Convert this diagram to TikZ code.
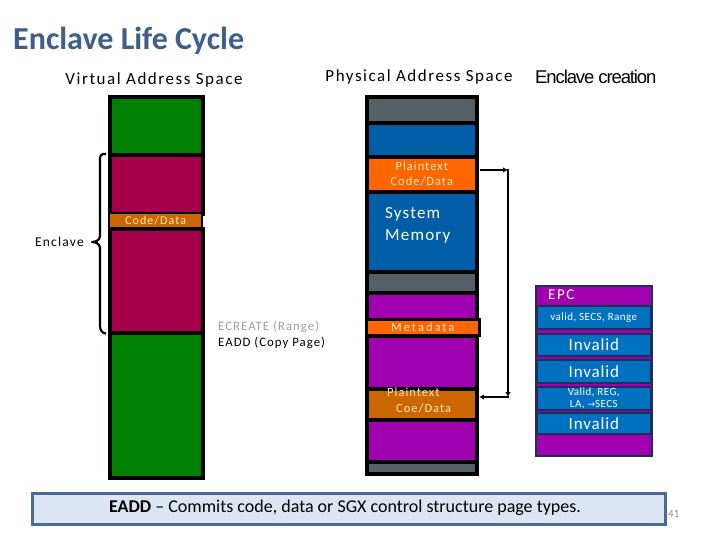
\documentclass[tikz,border=0pt]{standalone}
\usepackage{fontspec}
\setmainfont{Carlito}
\newfontfamily\arialf{Liberation Sans}
\newfontfamily\djv{DejaVu Sans}
\usetikzlibrary{calc,arrows.meta}
\definecolor{titleblue}{RGB}{63,95,138}
\definecolor{vgreen}{RGB}{0,128,0}
\definecolor{maroon}{RGB}{166,0,77}
\definecolor{vorange}{RGB}{204,102,0}
\definecolor{porange}{RGB}{255,102,0}
\definecolor{pblue}{RGB}{0,94,166}
\definecolor{mgray}{RGB}{85,95,102}
\definecolor{mpurple}{RGB}{160,0,176}
\definecolor{epcblue}{RGB}{0,112,192}
\definecolor{navy}{RGB}{31,47,90}
\definecolor{boxfill}{RGB}{220,230,242}
\definecolor{boxdraw}{RGB}{74,106,149}
\definecolor{lighttxt}{RGB}{255,232,192}
\tikzset{
  seg/.style={draw=black, line width=3.6pt, inner sep=0pt, anchor=north west, align=center},
  epcseg/.style={draw=navy, line width=1.6pt, fill=epcblue, inner sep=0pt, anchor=north west, align=center, text=white},
  arr/.style={draw=black, line width=2.6pt, -{Latex[length=5pt,width=5.5pt]}},
  lbl/.style={inner sep=0pt, font=\fontsize{17}{18}\selectfont\addfontfeature{LetterSpace=9}},
  bigtxt/.style={font=\fontsize{17}{18}\selectfont\addfontfeature{LetterSpace=5}},
  smalltxt/.style={font=\fontsize{11}{12.5}\selectfont\addfontfeature{LetterSpace=4}},
}
\begin{document}
\begin{tikzpicture}[x=1pt,y=-1pt]
\useasboundingbox[fill=white] (0,0) rectangle (720,540);
% titles
\node[anchor=west, inner sep=0pt, text=titleblue, font=\fontsize{32}{34}\selectfont\bfseries] (title) at (13,41) {Enclave Life Cycle};
\node[lbl] (vas) at (154,80) {Virtual Address Space};
\node[lbl] (pas) at (419,77) {Physical Address Space};
\node[anchor=west, inner sep=0pt, font=\arialf\fontsize{18.5}{20}\selectfont\addfontfeature{LetterSpace=-6}] (ec) at (535,77) {Enclave creation};

% virtual column
\node[seg, fill=vgreen, minimum width=93pt, minimum height=58pt] (v1) at (108,95) {};
\node[seg, fill=maroon, minimum width=93pt, minimum height=59pt] (v2) at (108,153) {};
\node[seg, fill=vorange, minimum width=93pt, minimum height=15pt, line width=2.2pt, text=lighttxt, font=\fontsize{12}{12}\selectfont\addfontfeature{LetterSpace=9}] (v3) at (108,212) {Code/Data};
\node[seg, fill=maroon, minimum width=93pt, minimum height=104pt] (v4) at (108,227) {};
\node[seg, fill=vgreen, minimum width=93pt, minimum height=145pt] (v5) at (108,331) {};

% brace
\coordinate (bt) at ($(v2.north west)+(-2,1)$);
\coordinate (bb) at ($(v4.south west)+(-2,-1)$);
\draw[line width=2.2pt, line join=round] (bt) -- ++(-3,0) to[out=180,in=90] ++(-3,4) -- (100,236) to[out=-90,in=0] (92,242) to[out=0,in=90] (100,248) -- (100,326) to[out=-90,in=180] (bb);
\node[anchor=east, inner sep=0pt, font=\fontsize{13.5}{15}\selectfont\addfontfeature{LetterSpace=9}] (encl) at (84,242) {Enclave};

% commands
\node[anchor=west, inner sep=0pt, text=black!38, font=\fontsize{12.8}{14}\selectfont\addfontfeature{LetterSpace=8}] (ecr) at (218,327) {ECREATE (Range)};
\node[anchor=west, inner sep=0pt, font=\fontsize{12.8}{14}\selectfont\addfontfeature{LetterSpace=8}] (eadd) at (218,343) {EADD (Copy Page)};

% physical column
\node[seg, fill=mgray, minimum width=110pt, minimum height=26pt] (p1) at (365,95) {};
\node[seg, fill=pblue, minimum width=110pt, minimum height=34pt] (p2) at (365,121) {};
\node[seg, fill=porange, minimum width=110pt, minimum height=35pt, text=lighttxt, font=\fontsize{12.5}{15}\selectfont\addfontfeature{LetterSpace=8}] (p3) at (365,155) {Plaintext\\Code/Data};
\node[seg, fill=pblue, minimum width=110pt, minimum height=80pt] (p4) at (365,190) {};
\node[anchor=north west, inner sep=0pt, text=white, align=left, font=\fontsize{17}{22}\selectfont\addfontfeature{LetterSpace=7}] (sm) at (385,207) {System\\Memory};
\node[seg, fill=mgray, minimum width=110pt, minimum height=21pt] (p5) at (365,270) {};
\node[seg, fill=mpurple, minimum width=110pt, minimum height=27pt] (p6) at (365,291) {};
\node[seg, fill=mpurple, minimum width=110pt, minimum height=53pt] (p8) at (365,334) {};
\node[seg, fill=porange, minimum width=113pt, minimum height=16pt, line width=2.6pt, text=lighttxt, font=\fontsize{12.5}{12}\selectfont\addfontfeature{LetterSpace=16}] (p7) at (365,318) {Metadata};
\node[seg, fill=vorange, minimum width=110pt, minimum height=31pt] (p9) at (365,387) {};
\node[anchor=north west, inner sep=0pt, text=lighttxt, align=left, font=\fontsize{12.5}{16}\selectfont\addfontfeature{LetterSpace=8}] (pt2) at (387,388) {Plaintext\\\hspace*{9pt}Coe/Data};
\node[seg, fill=mpurple, minimum width=110pt, minimum height=42pt] (p10) at (365,418) {};
\node[seg, fill=mgray, minimum width=110pt, minimum height=12pt] (p11) at (365,460) {};

% connector
\coordinate (c0) at (480,170);
\coordinate (c1) at (508,170);
\coordinate (c2) at (508,397);
\coordinate (c3) at (479,397);
\draw[arr] (c0) -- (c1);
\draw[line width=2.6pt] (c1) -- ++(0,-1.3);
\draw[arr] ($(c1)+(0,-1.3)$) -- (c2);
\draw[arr] ($(c2)+(1.3,0)$) -- (c3);

% EPC
\node[draw=navy, line width=2.4pt, fill=mpurple, inner sep=0pt, anchor=north west, minimum width=116pt, minimum height=170pt] (epc) at (535,285) {};
\node[anchor=west, inner sep=0pt, text=white, font=\fontsize{15}{16}\selectfont\addfontfeature{LetterSpace=10}] (epct) at (548,295) {EPC};
\node[epcseg, smalltxt, minimum width=114pt, minimum height=23pt] (e1) at (536,305) {valid, SECS, Range};
\node[epcseg, bigtxt, minimum width=114pt, minimum height=22pt] (e2) at (536,333) {Invalid};
\node[epcseg, bigtxt, minimum width=114pt, minimum height=23pt] (e3) at (536,359) {Invalid};
\node[epcseg, smalltxt, minimum width=114pt, minimum height=23pt] (e4) at (536,386) {Valid, REG,\\LA, {\djv\fontsize{9}{10}\selectfont →}SECS};
\node[epcseg, bigtxt, minimum width=114pt, minimum height=21pt] (e5) at (536,412) {Invalid};

% bottom box
\node[draw=boxdraw, fill=boxfill, line width=2.8pt, anchor=north west, minimum width=633pt, minimum height=31pt, inner sep=0pt] (note) at (31,492) {};
\node[inner sep=0pt, font=\fontsize{18}{20}\selectfont] (notet) at (345,508) {\textbf{EADD} -- Commits code, data or SGX control structure page types.};
\node[anchor=west, inner sep=0pt, text=black!45, font=\fontsize{11}{12}\selectfont] (pg) at (668,514) {41};
\end{tikzpicture}
\end{document}
